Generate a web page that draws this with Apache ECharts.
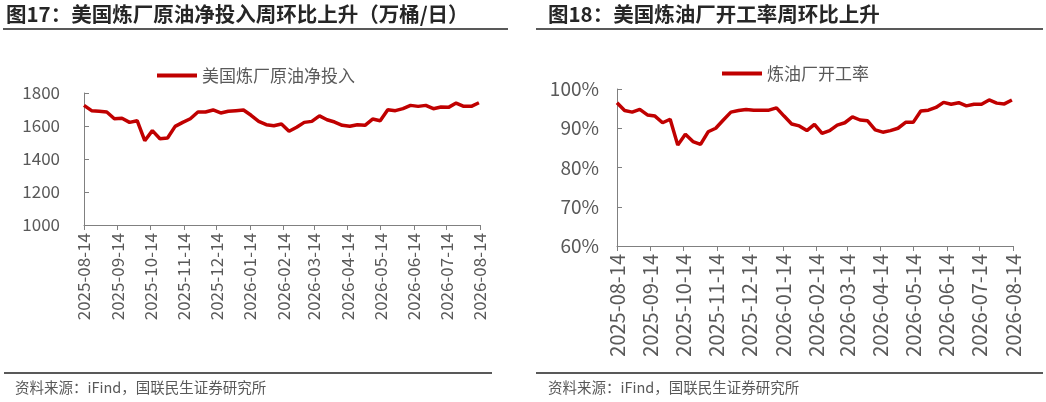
<!DOCTYPE html>
<html>
<head>
<meta charset="utf-8">
<script src="https://cdn.jsdelivr.net/npm/echarts@6/dist/echarts.min.js"></script>
<style>
  html, body { margin: 0; padding: 0; background: #fff; }
  #main { width: 1046px; height: 402px; }
</style>
</head>
<body>
<div id="main"></div>
<script>
// 周度日期
var weeks = ['2025-08-14','2025-08-21','2025-08-28','2025-09-04','2025-09-11','2025-09-18','2025-09-25',
  '2025-10-02','2025-10-09','2025-10-16','2025-10-23','2025-10-30','2025-11-06','2025-11-13','2025-11-20',
  '2025-11-27','2025-12-04','2025-12-11','2025-12-18','2025-12-25','2026-01-01','2026-01-08','2026-01-15',
  '2026-01-22','2026-01-29','2026-02-05','2026-02-12','2026-02-19','2026-02-26','2026-03-05','2026-03-12',
  '2026-03-19','2026-03-26','2026-04-02','2026-04-09','2026-04-16','2026-04-23','2026-04-30','2026-05-07',
  '2026-05-14','2026-05-21','2026-05-28','2026-06-04','2026-06-11','2026-06-18','2026-06-25','2026-07-02',
  '2026-07-09','2026-07-16','2026-07-23','2026-07-30','2026-08-06','2026-08-13'];
// 美国炼厂原油净投入（万桶/日）
var crudeInput = [1725,1693,1690,1685,1644,1647,1622,1632,1511,1572,
  1523,1527,1598,1622,1644,1685,1685,1697,1679,1689,
  1693,1697,1665,1628,1608,1602,1612,1568,1592,1622,
  1628,1661,1638,1624,1604,1598,1608,1604,1642,1632,
  1699,1693,1705,1725,1719,1725,1705,1715,1713,1739,
  1719,1719,1741];
// 炼油厂开工率（%）
var utilization = [96.5,94.5,94.1,94.8,93.4,93.1,91.4,92.3,85.7,88.5,
  86.6,85.9,89.1,90.0,92.1,94.1,94.5,94.8,94.6,94.6,
  94.6,95.2,93.1,91.1,90.6,89.4,91.0,88.7,89.4,90.8,
  91.4,92.9,92.1,91.9,89.6,89.0,89.4,90.0,91.5,91.5,
  94.4,94.6,95.3,96.6,96.1,96.5,95.7,96.1,96.1,97.2,
  96.4,96.2,97.2];
// 横轴刻度
var tickLabels = ['2025-08-14','2025-09-14','2025-10-14','2025-11-14','2025-12-14','2026-01-14',
  '2026-02-14','2026-03-14','2026-04-14','2026-05-14','2026-06-14','2026-07-14','2026-08-14'];

function ts(s) { return Date.parse(s + 'T00:00:00Z'); }
var tickValues = tickLabels.map(ts);
function pairs(arr) { return arr.map(function (v, i) { return [ts(weeks[i]), v]; }); }

var RED = '#C00000', GREY = '#595959', AXIS = '#808080';
var FONT = '"Noto Sans CJK SC", "Noto Sans", sans-serif';

function xAxis(idx, size) {
  return {
    type: 'value', gridIndex: idx,
    min: tickValues[0], max: tickValues[tickValues.length - 1],
    axisLine: { lineStyle: { color: AXIS, width: 1 } },
    axisTick: { show: true, length: 5, customValues: tickValues, lineStyle: { color: AXIS } },
    splitLine: { show: false },
    axisLabel: {
      customValues: tickValues, rotate: 90, margin: 8,
      color: GREY, fontSize: size, fontFamily: FONT,
      formatter: function (v) { var k = tickValues.indexOf(v); return k < 0 ? '' : tickLabels[k]; }
    }
  };
}

var chart = echarts.init(document.getElementById('main'));
chart.setOption({
  animation: false,
  textStyle: { fontFamily: FONT },
  grid: [
    { left: 84, right: 566, top: 93, height: 132 },
    { left: 617, right: 33, top: 89, height: 157 }
  ],
  legend: [
    { data: ['美国炼厂原油净投入'], left: 152, top: 62, icon: 'rect', itemWidth: 40, itemHeight: 4,
      textStyle: { color: GREY, fontSize: 17 } },
    { data: ['炼油厂开工率'], left: 717, top: 60, icon: 'rect', itemWidth: 40, itemHeight: 4,
      textStyle: { color: GREY, fontSize: 17 } }
  ],
  xAxis: [xAxis(0, 17), xAxis(1, 20)],
  yAxis: [
    { type: 'value', gridIndex: 0, min: 1000, max: 1800, interval: 200,
      axisLine: { show: true, lineStyle: { color: AXIS } },
      axisTick: { show: true, inside: true, length: 5, lineStyle: { color: AXIS } },
      splitLine: { show: false },
      axisLabel: { color: GREY, fontSize: 17, margin: 24, formatter: function (v) { return String(v); } } },
    { type: 'value', gridIndex: 1, min: 60, max: 100, interval: 10,
      axisLine: { show: true, lineStyle: { color: AXIS } },
      axisTick: { show: true, inside: true, length: 5, lineStyle: { color: AXIS } },
      splitLine: { show: false },
      axisLabel: { color: GREY, fontSize: 19, margin: 18, formatter: '{value}%' } }
  ],
  series: [
    { name: '美国炼厂原油净投入', type: 'line', xAxisIndex: 0, yAxisIndex: 0,
      data: pairs(crudeInput), showSymbol: false, symbol: 'none',
      itemStyle: { color: RED }, lineStyle: { color: RED, width: 3.5 } },
    { name: '炼油厂开工率', type: 'line', xAxisIndex: 1, yAxisIndex: 1,
      data: pairs(utilization), showSymbol: false, symbol: 'none',
      itemStyle: { color: RED }, lineStyle: { color: RED, width: 3.5 } }
  ],
  graphic: [
    { type: 'text', left: 6, top: 4, style: { text: '图17：美国炼厂原油净投入周环比上升（万桶/日）',
        fill: '#262626', font: 'bold 20.5px ' + FONT } },
    { type: 'text', left: 548, top: 4, style: { text: '图18：美国炼油厂开工率周环比上升',
        fill: '#262626', font: 'bold 20.5px ' + FONT } },
    { type: 'rect', shape: { x: 3, y: 28, width: 505, height: 2 }, style: { fill: GREY } },
    { type: 'rect', shape: { x: 536, y: 28, width: 507, height: 2 }, style: { fill: GREY } },
    { type: 'rect', shape: { x: 4, y: 372, width: 488, height: 2 }, style: { fill: GREY } },
    { type: 'rect', shape: { x: 536, y: 372, width: 507, height: 2 }, style: { fill: GREY } },
    { type: 'text', left: 15, top: 380, style: { text: '资料来源：iFind，国联民生证券研究所',
        fill: GREY, font: '14.5px ' + FONT } },
    { type: 'text', left: 548, top: 380, style: { text: '资料来源：iFind，国联民生证券研究所',
        fill: GREY, font: '14.5px ' + FONT } }
  ]
});
</script>
</body>
</html>
